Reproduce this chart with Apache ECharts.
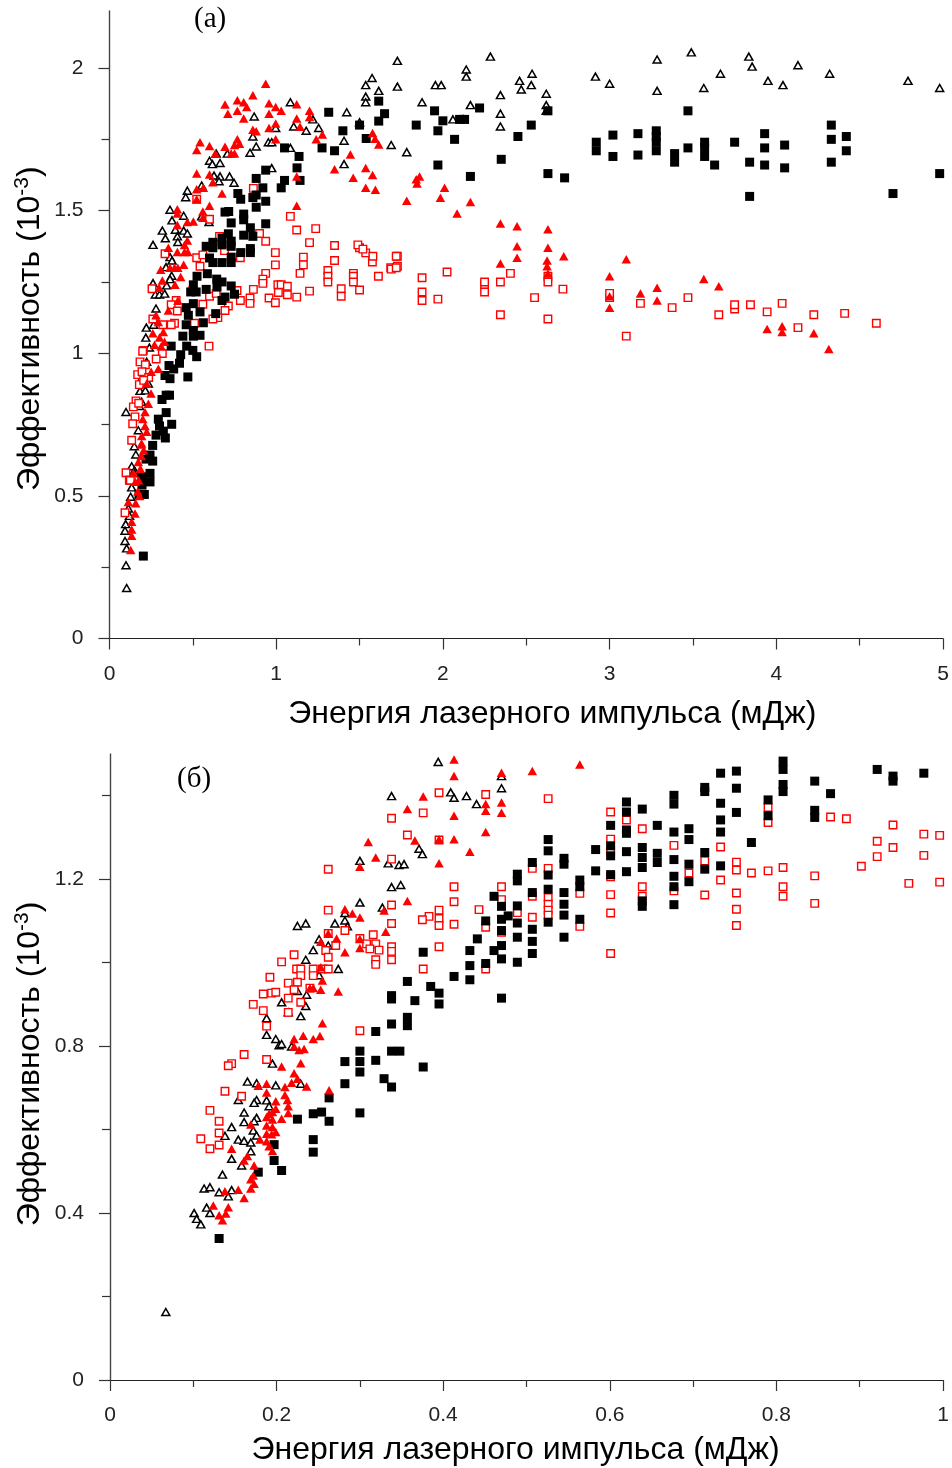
<!DOCTYPE html>
<html><head><meta charset="utf-8">
<style>html,body{margin:0;padding:0;background:#fff}#c{width:952px;height:1468px}</style>
<script src="https://cdn.jsdelivr.net/npm/echarts@6/dist/echarts.min.js"></script>
</head><body><div id="c"></div>
<script>
const sqBlackA=[[4.7,1.56],[4.98,1.63],[4.33,1.8],[4.33,1.75],[4.33,1.67],[4.42,1.76],[4.42,1.71],[4.05,1.73],[4.05,1.65],[3.93,1.77],[3.93,1.72],[3.93,1.66],[3.84,1.67],[3.84,1.55],[3.75,1.74],[3.63,1.66],[3.57,1.74],[3.57,1.72],[3.57,1.69],[3.47,1.85],[3.47,1.72],[3.39,1.7],[3.39,1.67],[3.28,1.78],[3.28,1.76],[3.28,1.74],[3.28,1.71],[3.17,1.77],[3.17,1.695],[3.02,1.765],[3.02,1.69],[2.92,1.74],[2.92,1.71],[2.73,1.615],[2.63,1.63],[2.63,1.85],[2.35,1.68],[2.45,1.76],[2.53,1.8],[2.165,1.62],[1.97,1.66],[2.07,1.75],[1.97,1.78],[1.84,1.8],[1.95,1.85],[2,1.815],[2.1,1.82],[2.13,1.82],[2.22,1.86],
[1.315,1.845],[1.615,1.884],[1.65,1.84],[1.615,1.814],[1.5,1.8],[1.4,1.78],[1.54,1.753],[1.275,1.72],[1.35,1.71],[1.05,1.72],[1.137,1.69],[1.125,1.65],[1.143,1.606],[1.05,1.606],[1.03,1.58],[0.937,1.642],[0.88,1.613],[0.92,1.58],[0.88,1.555],[0.86,1.546],[0.937,1.533],[0.88,1.512],[0.77,1.56],[0.787,1.54],[0.693,1.495],[0.715,1.497],[0.805,1.488],[0.805,1.468],[0.937,1.454],[0.73,1.457],[0.845,1.44],[0.713,1.419],[0.805,1.414],[0.86,1.41],[0.675,1.404],[0.73,1.393],[0.62,1.389],[0.58,1.375],[0.62,1.37],[0.675,1.38],[0.73,1.375],[0.845,1.367],[0.787,1.353],[0.845,1.353],[0.6,1.334],[0.73,1.337],[0.62,1.318],[0.675,1.318],[0.73,1.318],[0.525,1.27],[0.587,1.279],[0.643,1.26],[0.675,1.25],[0.73,1.236],[0.503,1.24],[0.58,1.224],[0.645,1.232],[0.75,1.207],[0.487,1.215],[0.52,1.215],[0.693,1.197],[0.675,1.185],[0.503,1.174],[0.46,1.16],[0.543,1.145],[0.637,1.139],[0.473,1.133],[0.46,1.1],[0.563,1.107],[0.503,1.08],[0.44,1.06],[0.543,1.063],[0.503,1.06],[0.37,1.025],[0.463,1.025],
[0.427,0.995],[0.5,1.01],[0.523,0.988],[0.42,0.965],[0.357,0.957],[0.385,0.945],[0.333,0.922],[0.363,0.911],[0.47,0.917],[0.34,0.853],[0.36,0.853],[0.315,0.838],[0.34,0.792],[0.293,0.769],[0.373,0.751],[0.3,0.745],[0.323,0.727],[0.279,0.713],[0.335,0.703],[0.259,0.677],[0.243,0.643],[0.219,0.629],[0.259,0.622],[0.243,0.579],[0.195,0.567],[0.243,0.549],[0.195,0.538],[0.177,0.505],[0.209,0.505],[0.203,0.289]];
const triBlackA=[[1.727,2.025],[1.575,1.965],[1.537,1.94],[1.615,1.92],[1.727,1.935],[1.537,1.9],[1.537,1.88],[1.423,1.845],[1.5,1.81],[1.085,1.88],[0.868,1.83],[1.22,1.82],[1.105,1.795],[0.997,1.79],[1.18,1.78],[1.255,1.79],[0.86,1.76],[1.407,1.745],[0.953,1.74],[0.973,1.74],[0.88,1.725],[1.085,1.72],[0.843,1.703],[1.69,1.73],[1.783,1.705],[0.707,1.7],[0.64,1.7],[0.6,1.675],[0.617,1.663],[0.663,1.667],[1.407,1.663],[0.973,1.649],[0.627,1.623],[0.663,1.62],[0.72,1.62],[0.657,1.603],[0.747,1.598],[0.467,1.57],[0.553,1.588],[0.457,1.547],[0.363,1.503],[0.375,1.466],[0.445,1.482],[0.553,1.48],[0.597,1.46],[0.317,1.43],[0.395,1.433],[0.445,1.43],[0.335,1.403],[0.407,1.41],[0.467,1.42],[0.261,1.38],[0.41,1.39],[0.363,1.337],[0.375,1.325],[0.339,1.302],[0.373,1.272],[0.363,1.26],[0.261,1.246],[0.343,1.238],[0.275,1.206],[0.3,1.206],[0.331,1.209],[0.279,1.157],[0.221,1.09],[0.218,1.055],[0.265,1.1],
[2.285,2.04],[1.955,1.94],[1.99,1.94],[2.14,1.995],[2.14,1.97],[1.875,1.88],[2.165,1.87],[2.06,1.82],[2.125,1.82],[2.345,1.905],[2.345,1.84],[2.345,1.795],[2.46,1.955],[2.47,1.925],[2.535,1.98],[2.53,1.94],[2.62,1.91],[2.62,1.87],[2.62,1.85],[2.915,1.97],[3,1.945],[3.285,2.03],[3.285,1.92],[3.49,2.055],[3.565,1.93],[3.665,1.98],[3.835,2.04],[3.855,2.005],[3.95,1.955],[4.04,1.94],[4.13,2.01],[4.32,1.98],[4.79,1.955],[4.98,1.93],
[0.099,0.794],[0.173,0.73],[0.149,0.674],[0.158,0.645],[0.133,0.604],[0.15,0.59],[0.133,0.53],[0.127,0.497],[0.113,0.456],[0.12,0.43],[0.097,0.401],[0.093,0.378],[0.093,0.342],[0.103,0.316],[0.099,0.257],[0.103,0.177],[0.203,0.931],[0.233,0.894],[0.195,0.915],[0.183,0.868],[0.223,0.97],[0.239,1.02],[0.193,0.83],[0.215,0.87],[0.18,0.815],[0.15,0.58]];
const triRedA=[[0.937,1.945],[0.86,1.905],[0.767,1.887],[0.805,1.88],[0.693,1.872],[0.823,1.863],[0.957,1.877],[0.997,1.863],[1.123,1.873],[1.03,1.85],[0.957,1.84],[0.767,1.85],[0.71,1.84],[0.805,1.823],[1.2,1.85],[1.2,1.828],[1.123,1.823],[0.997,1.806],[1.143,1.794],[0.86,1.784],[0.88,1.778],[0.957,1.79],[1.277,1.767],[1.24,1.75],[1.578,1.772],[1.593,1.752],[1.615,1.732],[0.997,1.75],[0.767,1.75],[0.543,1.74],[0.6,1.727],[0.693,1.724],[0.75,1.73],[0.78,1.735],[0.523,1.713],[0.635,1.7],[0.73,1.7],[0.75,1.7],[1.445,1.697],[1.35,1.645],[1.537,1.65],[1.578,1.625],[1.462,1.615],[1.537,1.58],[1.595,1.573],[1.84,1.61],[1.783,1.535],[1.123,1.62],[1.123,1.517],[0.523,1.63],[0.6,1.627],[0.62,1.6],[0.523,1.575],[0.563,1.58],[0.675,1.56],[0.523,1.54],[0.6,1.517],[0.407,1.505],[0.56,1.497],[0.407,1.49],[0.56,1.475],[0.467,1.46],[0.503,1.462],[0.407,1.45],[0.467,1.395],[0.45,1.38],[0.353,1.37],[0.407,1.355],[0.45,1.355],[0.47,1.355],[0.445,1.31],[0.307,1.293],[0.363,1.3],[0.39,1.3],[0.41,1.3],[0.427,1.267],[0.317,1.255],[0.393,1.24],[0.298,1.23],[0.41,1.185],[0.353,1.15],[0.279,1.133],[0.293,1.11],[0.323,1.075],[0.26,1.07],[0.3,1.055],[0.33,1.04],[0.27,1.03],[0.31,1.025],
[1.985,1.545],[2.01,1.58],[1.845,1.595],[1.86,1.62],[2.085,1.49],[2.165,1.53],[2.345,1.455],[2.445,1.445],[2.445,1.375],[2.63,1.435],[2.63,1.37],[2.345,1.315],[2.445,1.335],[2.625,1.325],[2.625,1.305],[2.63,1.28],[2.725,1.34],[3,1.27],[3.1,1.33],[3,1.2],[3,1.16],[3.185,1.21],[3.285,1.23],[3.285,1.185],[3.565,1.26],[3.655,1.235],[3.945,1.085],[4.035,1.095],[4.035,1.075],[4.225,1.07],[4.315,1.015],
[0.293,0.946],[0.25,0.935],[0.223,0.894],[0.249,0.859],[0.233,0.823],[0.213,0.794],[0.213,0.745],[0.223,0.725],[0.193,0.71],[0.193,0.684],[0.205,0.66],[0.173,0.619],[0.143,0.579],[0.113,0.479],[0.157,0.474],[0.153,0.438],[0.133,0.409],[0.133,0.382],[0.133,0.36],[0.127,0.31],[0.175,0.555],[0.155,0.55],[0.17,0.515],[0.185,0.595],[0.19,0.64],[0.2,0.77],[0.19,0.68],[0.18,0.5]];
const sqRedA=[[0.863,1.578],[1.085,1.48],[1.123,1.432],[1.237,1.437],[1.2,1.388],[1.35,1.378],[1.5,1.37],[1.537,1.352],[1.727,1.34],[1.577,1.32],[1.35,1.325],[1.163,1.337],[1.163,1.31],[0.995,1.353],[0.995,1.31],[0.937,1.393],[0.9,1.42],[1.687,1.3],[1.727,1.305],[1.31,1.29],[1.31,1.27],[1.31,1.25],[1.463,1.28],[1.463,1.27],[1.463,1.25],[1.613,1.27],[1.143,1.28],[0.937,1.28],[0.92,1.26],[0.92,1.245],[1.01,1.24],[1.03,1.24],[1.067,1.235],[1.2,1.218],[1.39,1.226],[1.39,1.2],[1.5,1.222],[1.123,1.197],[1.067,1.205],[1.013,1.213],[0.957,1.194],[0.995,1.177],[0.863,1.224],[0.843,1.194],[0.843,1.175],[0.785,1.185],[0.765,1.22],[0.713,1.166],[0.693,1.15],[0.65,1.125],[0.62,1.12],[0.56,1.172],[0.6,1.2],[0.64,1.21],[0.597,1.025],[0.5,1.22],[0.4,1.185],[0.37,1.17],[0.407,1.148],[0.255,1.226],[0.333,1.349],[0.523,1.335],[0.56,1.345],[0.543,1.305],[0.6,1.47],[0.523,1.54],[0.66,1.41],[0.69,1.36],[0.785,1.335],[0.51,1.105],[0.39,1.105],[0.37,1.1],[0.32,1.1],[0.26,1.12],[0.203,1.01],
[1.875,1.265],[1.875,1.215],[1.875,1.185],[1.97,1.19],[2.025,1.285],[2.25,1.24],[2.25,1.215],[2.25,1.25],[2.345,1.135],[2.345,1.25],[2.405,1.28],[2.55,1.195],[2.63,1.12],[2.63,1.27],[2.63,1.25],[2.72,1.225],[3,1.195],[3,1.21],[3.1,1.06],[3.185,1.175],[3.375,1.16],[3.47,1.195],[3.655,1.135],[3.75,1.155],[3.75,1.17],[3.845,1.17],[3.945,1.145],[4.035,1.175],[4.13,1.09],[4.225,1.135],[4.41,1.14],[4.6,1.105],[1.49,1.38],[1.52,1.365],[1.58,1.34],[1.69,1.295],[1.72,1.34],[1.72,1.3],
[0.199,1.007],[0.317,0.999],[0.28,0.98],[0.183,0.97],[0.215,0.96],[0.169,0.925],[0.195,0.935],[0.235,0.915],[0.179,0.89],[0.159,0.833],[0.143,0.812],[0.153,0.777],[0.139,0.753],[0.133,0.695],[0.099,0.581],[0.119,0.555],[0.093,0.441],[0.205,0.905],[0.125,0.555],[0.175,0.825]];

const sqBlackB=[[0.461,1.159],[0.47,1.135],[0.451,1.1],[0.47,1.104],[0.478,1.112],[0.47,1.077],[0.441,1.057],[0.432,1.029],[0.461,1.029],[0.47,1.041],[0.47,1.009],[0.376,1.025],[0.432,0.993],[0.451,0.998],[0.413,0.967],[0.432,0.959],[0.357,0.955],[0.385,0.943],[0.395,0.927],[0.395,0.901],[0.338,0.921],[0.338,0.913],[0.366,0.909],[0.47,0.915],[0.357,0.869],[0.357,0.849],[0.338,0.853],[0.319,0.835],[0.338,0.788],[0.348,0.788],[0.3,0.788],[0.3,0.763],[0.282,0.763],[0.319,0.766],[0.3,0.738],[0.376,0.75],[0.329,0.722],[0.338,0.702],[0.282,0.71],[0.263,0.676],[0.254,0.642],[0.244,0.638],[0.3,0.64],[0.263,0.62],[0.225,0.625],[0.244,0.576],[0.244,0.546],[0.197,0.564],[0.197,0.526],[0.206,0.502],[0.178,0.498],[0.131,0.339],
[0.808,1.483],[0.808,1.463],[0.752,1.459],[0.733,1.454],[0.921,1.463],[0.94,1.447],[0.94,1.435],[0.977,1.454],[0.846,1.435],[0.865,1.405],[0.808,1.427],[0.808,1.41],[0.752,1.418],[0.714,1.42],[0.714,1.41],[0.79,1.39],[0.677,1.401],[0.677,1.38],[0.733,1.382],[0.62,1.385],[0.62,1.361],[0.639,1.368],[0.752,1.36],[0.79,1.352],[0.846,1.365],[0.846,1.348],[0.733,1.342],[0.601,1.329],[0.657,1.329],[0.695,1.321],[0.62,1.318],[0.62,1.31],[0.677,1.313],[0.733,1.313],[0.695,1.295],[0.526,1.295],[0.77,1.288],[0.583,1.271],[0.601,1.28],[0.601,1.256],[0.62,1.266],[0.639,1.276],[0.639,1.252],[0.657,1.262],[0.657,1.24],[0.677,1.247],[0.714,1.264],[0.526,1.268],[0.545,1.25],[0.545,1.236],[0.507,1.24],[0.733,1.232],[0.695,1.236],[0.714,1.224],[0.639,1.228],[0.601,1.211],[0.583,1.22],[0.62,1.218],[0.526,1.21],[0.489,1.212],[0.489,1.196],[0.564,1.198],[0.564,1.182],[0.677,1.207],[0.695,1.194],[0.677,1.182],[0.526,1.176],[0.507,1.168],[0.545,1.168],[0.545,1.14],[0.639,1.148],[0.639,1.135],[0.677,1.139],[0.489,1.136],[0.545,1.114],[0.489,1.095],[0.526,1.097],[0.564,1.104],[0.507,1.08],[0.489,1.061],[0.507,1.051],[0.545,1.061],[0.507,1.022],[0.489,1.001]];
const triBlackB=[[0.394,1.481],[0.409,1.408],[0.413,1.395],[0.428,1.399],[0.44,1.38],[0.47,1.418],[0.47,1.447],[0.338,1.399],[0.371,1.273],[0.375,1.26],[0.3,1.244],[0.334,1.238],[0.347,1.234],[0.353,1.236],[0.338,1.181],[0.349,1.186],[0.3,1.144],[0.327,1.132],[0.282,1.119],[0.282,1.101],[0.27,1.094],[0.285,1.087],[0.225,1.088],[0.235,1.094],[0.251,1.056],[0.262,1.041],[0.244,1.03],[0.235,1.007],[0.274,0.985],[0.251,0.97],[0.225,0.932],[0.236,0.923],[0.206,0.905],[0.235,0.896],[0.214,0.881],[0.229,0.872],[0.188,0.867],[0.188,0.827],[0.199,0.817],[0.203,0.802],[0.206,0.805],[0.218,0.799],[0.195,0.758],
[0.165,0.715],[0.176,0.711],[0.199,0.706],[0.229,0.71],[0.154,0.671],[0.176,0.671],[0.173,0.664],[0.188,0.67],[0.191,0.656],[0.161,0.641],[0.161,0.618],[0.176,0.628],[0.173,0.62],[0.146,0.606],[0.172,0.598],[0.138,0.585],[0.176,0.586],[0.154,0.576],[0.161,0.573],[0.169,0.569],[0.169,0.548],[0.146,0.53],[0.158,0.514],[0.135,0.492],[0.113,0.459],[0.12,0.462],[0.131,0.45],[0.146,0.455],[0.142,0.44],[0.116,0.413],[0.12,0.4],[0.101,0.4],[0.104,0.386],[0.109,0.373],[0.067,0.163]];
const triRedB=[[0.413,1.487],[0.413,1.447],[0.47,1.455],[0.47,1.384],[0.47,1.359],[0.451,1.38],[0.451,1.364],[0.413,1.352],[0.376,1.398],[0.357,1.368],[0.451,1.313],[0.413,1.296],[0.432,1.266],[0.395,1.296],[0.395,1.238],[0.366,1.293],[0.31,1.289],[0.319,1.252],[0.3,1.23],[0.357,1.148],[0.329,1.125],[0.331,1.074],[0.282,1.128],[0.291,1.118],[0.3,1.108],[0.262,1.07],[0.253,1.05],[0.272,1.058],[0.3,1.057],[0.3,1.035],[0.282,1.025],[0.253,0.989],[0.255,0.957],[0.24,0.939],[0.244,0.939],[0.253,0.935],[0.274,0.931],[0.255,0.855],[0.232,0.825],[0.221,0.817],[0.244,0.817],[0.252,0.824],[0.221,0.799],[0.227,0.791],[0.233,0.793],[0.229,0.759],[0.206,0.751],[0.221,0.735],[0.225,0.722],[0.507,1.459],[0.564,1.475],
[0.218,0.712],[0.236,0.703],[0.21,0.702],[0.178,0.705],[0.188,0.71],[0.188,0.689],[0.263,0.694],[0.21,0.683],[0.213,0.671],[0.199,0.668],[0.214,0.656],[0.199,0.65],[0.195,0.642],[0.214,0.64],[0.191,0.638],[0.188,0.63],[0.195,0.624],[0.206,0.626],[0.169,0.612],[0.188,0.61],[0.195,0.606],[0.199,0.594],[0.188,0.59],[0.194,0.589],[0.18,0.576],[0.188,0.572],[0.191,0.56],[0.195,0.549],[0.146,0.554],[0.165,0.537],[0.161,0.526],[0.173,0.514],[0.172,0.49],[0.169,0.481],[0.173,0.47],[0.169,0.459],[0.138,0.452],[0.154,0.456],[0.161,0.436],[0.124,0.418],[0.142,0.414],[0.131,0.395],[0.139,0.399],[0.135,0.383]];
const sqRedB=[[0.395,1.407],[0.451,1.403],[0.338,1.346],[0.376,1.359],[0.357,1.306],[0.395,1.294],[0.262,1.224],[0.338,1.248],[0.413,1.182],[0.47,1.182],[0.47,1.151],[0.413,1.146],[0.338,1.138],[0.443,1.127],[0.395,1.126],[0.395,1.106],[0.383,1.111],[0.375,1.103],[0.395,1.089],[0.413,1.092],[0.338,1.094],[0.451,1.085],[0.262,1.126],[0.282,1.077],[0.262,1.07],[0.316,1.067],[0.3,1.058],[0.308,1.045],[0.319,1.045],[0.338,1.038],[0.395,1.038],[0.312,1.033],[0.323,1.03],[0.338,1.027],[0.338,1.007],[0.319,1.007],[0.319,0.996],[0.271,1.041],[0.259,1.029],[0.262,1.013],[0.221,1.019],[0.206,1.002],[0.224,0.985],[0.229,0.985],[0.229,0.969],[0.244,0.985],[0.244,0.969],[0.255,0.985],[0.262,0.985],[0.192,0.965],[0.214,0.951],[0.225,0.953],[0.24,0.939],[0.221,0.935],[0.184,0.925],[0.194,0.927],[0.199,0.929],[0.214,0.915],[0.229,0.905],[0.172,0.9],[0.184,0.885],[0.214,0.881],[0.188,0.848],[0.3,0.837],[0.376,0.985],[0.451,0.985],[0.161,0.78],[0.188,0.768],[0.146,0.758],[0.142,0.753],[0.138,0.692],[0.158,0.68],[0.12,0.646],[0.131,0.62],[0.131,0.592],[0.109,0.578],[0.12,0.554],[0.131,0.563],
[0.526,1.393],[0.601,1.361],[0.62,1.342],[0.639,1.321],[0.79,1.372],[0.79,1.336],[0.865,1.349],[0.884,1.345],[0.94,1.33],[0.977,1.308],[0.996,1.305],[0.921,1.291],[0.94,1.276],[0.921,1.254],[0.977,1.257],[0.902,1.231],[0.959,1.19],[0.996,1.193],[0.808,1.228],[0.808,1.182],[0.808,1.159],[0.846,1.208],[0.846,1.142],[0.77,1.215],[0.79,1.22],[0.752,1.241],[0.752,1.222],[0.752,1.167],[0.752,1.128],[0.752,1.089],[0.733,1.277],[0.733,1.198],[0.714,1.244],[0.714,1.162],[0.695,1.215],[0.677,1.281],[0.677,1.172],[0.639,1.182],[0.639,1.159],[0.601,1.296],[0.601,1.268],[0.601,1.206],[0.601,1.163],[0.601,1.119],[0.601,1.022],[0.564,1.166],[0.564,1.087],[0.526,1.226],[0.526,1.156],[0.526,1.14],[0.526,1.126],[0.526,1.114],[0.507,1.226],[0.507,1.159],[0.507,1.109],[0.489,1.12],[0.47,1.073]];

const yMajorA=[0,0.5,1,1.5,2], yMinorA=[0.25,0.75,1.25,1.75];
const yMajorB=[0,0.4,0.8,1.2], yMinorB=[0.2,0.6,1,1.4];
const xName='Энергия лазерного импульса (мДж)';
const font='"Liberation Sans",Arial,sans-serif';
const ink='#222';

function xAxis(gridIndex,max,interval,pad,gap){return {type:'value',gridIndex,min:0,max,interval,
  name:xName,nameLocation:'middle',nameGap:gap,nameTextStyle:{fontFamily:font,fontSize:32,color:'#000',padding:pad},
  axisLine:{show:true,onZero:false,lineStyle:{color:ink,width:1.2}},
  axisTick:{show:true,length:11,lineStyle:{color:'#333',width:1.2}},
  minorTick:{show:true,splitNumber:2,length:7,lineStyle:{color:'#333',width:1.2}},
  axisLabel:{fontFamily:font,fontSize:21,color:'#222',margin:25},splitLine:{show:false}};}
function yMain(gridIndex,max,ticks,pad){return {type:'value',gridIndex,min:0,max,
  name:'Эффективность (10{s|-3})',nameLocation:'middle',nameGap:61,nameRotate:90,nameMoveOverlap:false,
  nameTextStyle:{fontFamily:font,fontSize:32,color:'#000',padding:pad,rich:{s:{fontFamily:font,fontSize:21,verticalAlign:'bottom',padding:[0,0,16,0]}}},
  axisLine:{show:true,onZero:false,lineStyle:{color:'#444',width:1.4}},
  axisTick:{show:true,length:11,customValues:ticks,lineStyle:{color:'#333',width:1.2}},
  axisLabel:{fontFamily:font,fontSize:21,color:'#222',margin:26,customValues:ticks},splitLine:{show:false}};}
function yMinor(gridIndex,max,ticks){return {type:'value',gridIndex,min:0,max,position:'left',
  axisLine:{show:false},axisLabel:{show:false},splitLine:{show:false},
  axisTick:{show:true,length:8,customValues:ticks,lineStyle:{color:'#333',width:1.2}}};}
function ser(name,data,kind,g){
  const st={type:'scatter',name,data,xAxisIndex:g,yAxisIndex:g*2,clip:false,animation:false,silent:true};
  if(kind==='sqBlack') return {...st,symbol:'rect',symbolSize:9,z:4,itemStyle:{color:'#000',opacity:1}};
  if(kind==='sqRed') return {...st,symbol:'rect',symbolSize:7.5,z:3,itemStyle:{color:'#fff',opacity:1,borderColor:'#f00',borderWidth:1.4}};
  if(kind==='triBlack') return {...st,symbol:'triangle',symbolSize:[8,7],z:2,itemStyle:{color:'#fff',opacity:1,borderColor:'#000',borderWidth:1.5}};
  return {...st,symbol:'triangle',symbolSize:[9.5,8.5],z:5,itemStyle:{color:'#f00',opacity:1}};
}
const chart=echarts.init(document.getElementById('c'),null,{renderer:'canvas'});
chart.setOption({backgroundColor:'#fff',animation:false,
  grid:[{left:109.5,right:9,top:11,height:627.5,outerBoundsMode:'none'},{left:110,right:9,top:754,height:626,outerBoundsMode:'none'}],
  xAxis:[xAxis(0,5,1,[0,0,0,52],60),xAxis(1,1,0.2,[0,22,0,0],54)],
  yAxis:[yMain(0,2.2,yMajorA,[0,8,0,0]),yMinor(0,2.2,yMinorA),yMain(1,1.5,yMajorB,[0,0,0,6]),yMinor(1,1.5,yMinorB)],
  series:[
    ser('triBlackA',triBlackA,'triBlack',0),ser('sqRedA',sqRedA,'sqRed',0),ser('sqBlackA',sqBlackA,'sqBlack',0),ser('triRedA',triRedA,'triRed',0),
    ser('triBlackB',triBlackB,'triBlack',1),ser('sqRedB',sqRedB,'sqRed',1),ser('sqBlackB',sqBlackB,'sqBlack',1),ser('triRedB',triRedB,'triRed',1)
  ],
  graphic:[
    {type:'text',left:194,top:5,style:{text:'(а)',font:'29px "Liberation Serif",serif',fill:'#000'}},
    {type:'text',left:177,top:765,style:{text:'(б)',font:'29px "Liberation Serif",serif',fill:'#000'}}
  ]
});
</script></body></html>
